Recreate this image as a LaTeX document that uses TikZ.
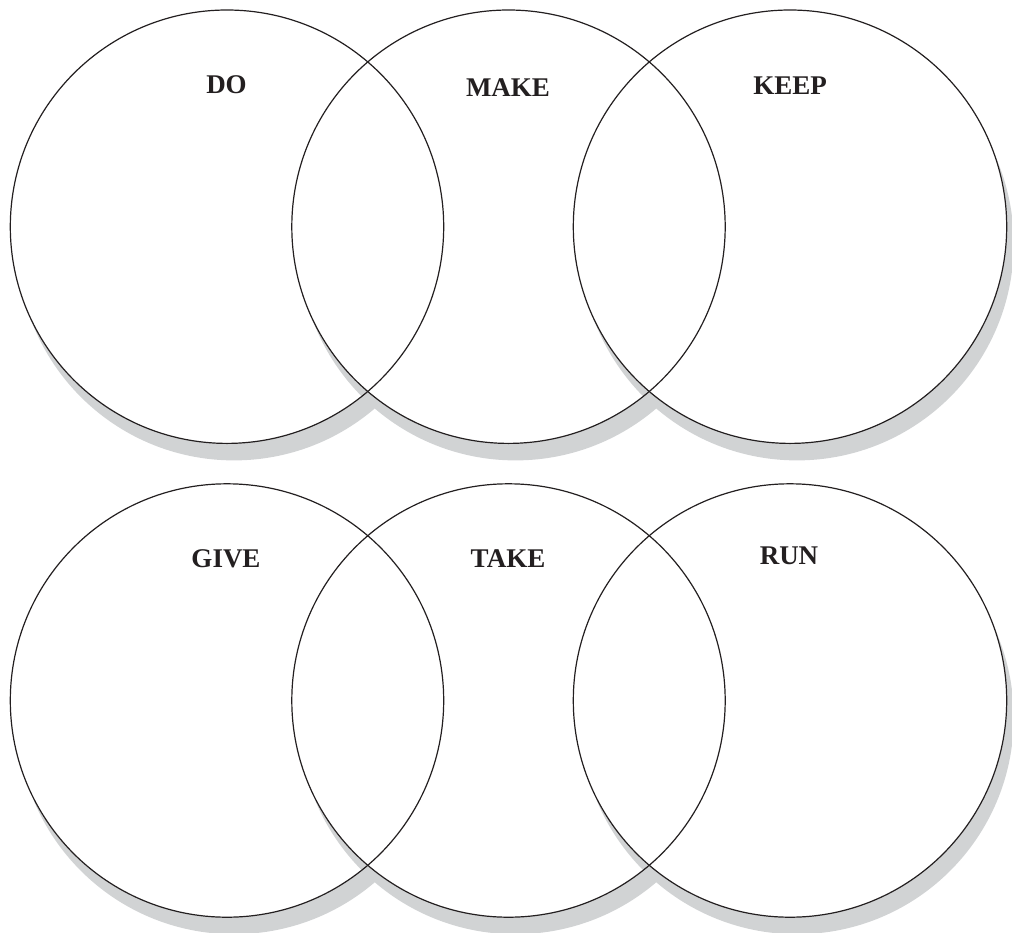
\documentclass[tikz,border=0pt]{standalone}
\usepackage{fontspec}
\setmainfont{Liberation Serif}
\usetikzlibrary{shadows}
\definecolor{shadowgray}{RGB}{209,211,212}
\definecolor{ink}{RGB}{35,31,32}
\tikzset{
  disk/.style={circle, minimum size=433.4pt, inner sep=0pt, fill=white,
    drop shadow={shadow xshift=7pt, shadow yshift=-17pt, fill=shadowgray, opacity=1}},
  ring/.style={draw=ink, line width=1.2pt},
  lbl/.style={text=ink, font=\fontsize{27}{27}\selectfont\bfseries, inner sep=0pt, anchor=base}
}
\begin{document}
\begin{tikzpicture}[x=1pt,y=-1pt]
\useasboundingbox (0,0) rectangle (1012,932);
% top row
\node[disk] (c1) at (227,226.7) {};
\node[disk] (c2) at (508.5,226.7) {};
\node[disk] (c3) at (790,226.7) {};
% bottom row
\node[disk] (c4) at (227,700.5) {};
\node[disk] (c5) at (508.5,700.5) {};
\node[disk] (c6) at (790,700.5) {};
% outlines on top
\foreach \n in {c1,c2,c3,c4,c5,c6}{
  \draw[ring] (\n.center) circle (216.7pt);
}
% labels
\node[lbl] (do) at (226.5,93) {DO};
\node[lbl] (make) at (508,96.5) {MAKE};
\node[lbl] (keep) at (790,94) {KEEP};
\node[lbl] (give) at (226,567) {GIVE};
\node[lbl] (take) at (508,567) {TAKE};
\node[lbl] (run) at (789,564) {RUN};
\end{tikzpicture}
\end{document}
